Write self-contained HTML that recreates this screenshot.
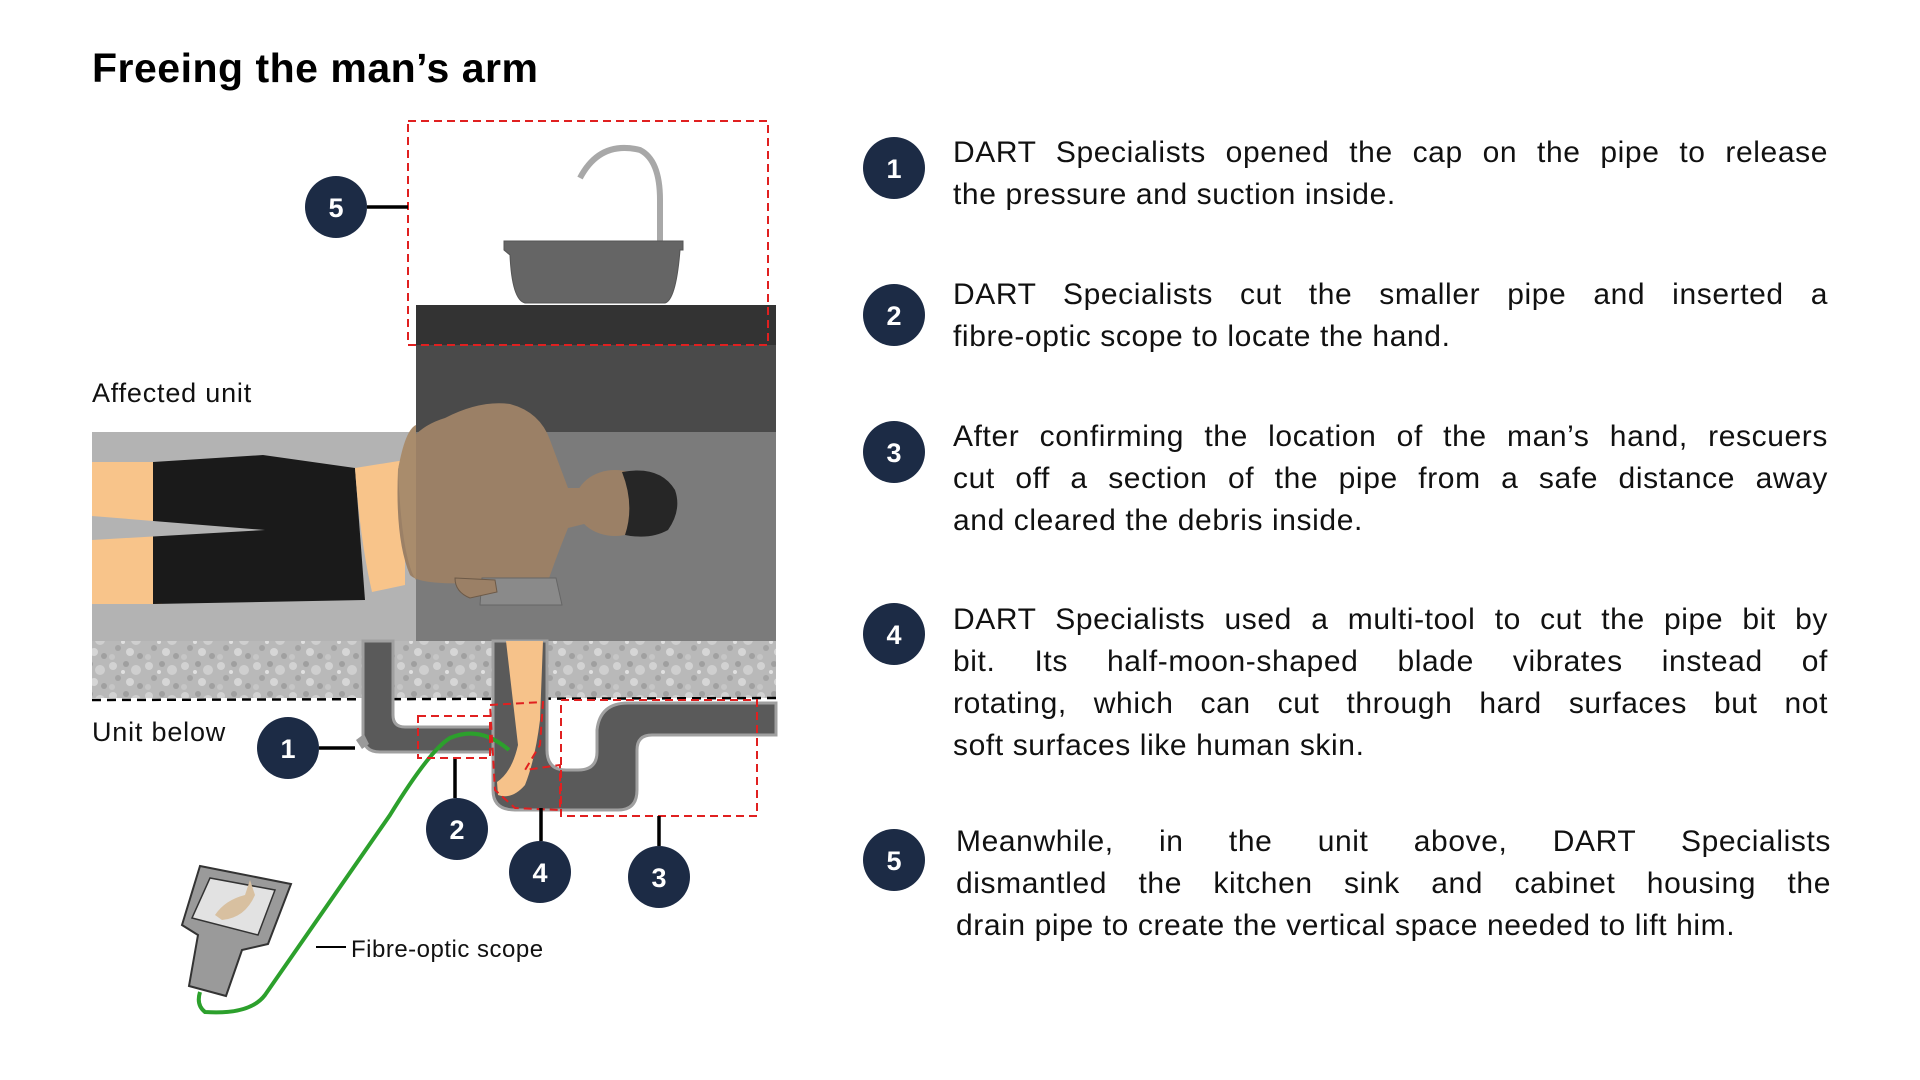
<!DOCTYPE html>
<html><head><meta charset="utf-8"><style>
html,body{margin:0;padding:0;background:#fff;}
body{width:1920px;height:1080px;position:relative;overflow:hidden;font-family:"Liberation Sans",sans-serif;color:#111;}
svg{position:absolute;left:0;top:0;}
.p{position:absolute;left:953px;width:875px;font-size:30px;line-height:42px;letter-spacing:0.6px;}
.p div{text-align:justify;text-align-last:justify;white-space:nowrap;}
.p div.l{text-align-last:left;}
</style></head><body>
<svg width="1920" height="1080" viewBox="0 0 1920 1080">
<defs>
<pattern id="conc" width="36" height="30" patternUnits="userSpaceOnUse">
<rect width="36" height="30" fill="#b9b9b9"/>
<circle cx="5" cy="6" r="4" fill="#d2d2d2"/><circle cx="18" cy="4" r="3" fill="#9f9f9f"/>
<circle cx="28" cy="10" r="5" fill="#cfcfcf"/><circle cx="10" cy="18" r="3" fill="#a4a4a4"/>
<circle cx="22" cy="22" r="4" fill="#d6d6d6"/><circle cx="32" cy="26" r="3" fill="#a0a0a0"/>
<circle cx="4" cy="27" r="3" fill="#c6c6c6"/><circle cx="15" cy="12" r="2" fill="#e0e0e0"/>
</pattern>
</defs>
<text x="92" y="82" font-family="Liberation Sans, sans-serif" font-weight="bold" font-size="41" letter-spacing="0.5" fill="#000">Freeing the man’s arm</text>
<rect x="92" y="432" width="684" height="209" fill="#b3b3b3"/>
<rect x="416" y="432" width="360" height="209" fill="#7b7b7b"/>
<rect x="416" y="345" width="360" height="87" fill="#4a4a4a"/>
<rect x="416" y="305" width="360" height="40" fill="#333"/>
<path d="M580 178 Q600 140 640 150 Q660 160 660 200 L660 242" fill="none" stroke="#a8a8a8" stroke-width="6"/>
<path d="M504 241 L683 241 L683 250 L680 250 Q676 300 665 303 L525 303 Q512 300 510 255 L504 250 Z" fill="#656565" stroke="#555" stroke-width="1"/>
<rect x="92" y="641" width="684" height="57" fill="url(#conc)"/>
<line x1="92" y1="700" x2="776" y2="698" stroke="#000" stroke-width="2.5" stroke-dasharray="9,6"/>
<path d="M363 641 V735 Q363 752 380 752 H493 V727 H405 Q393 727 393 715 V641 Z" fill="#5a5a5a" stroke="#a0a0a0" stroke-width="3"/>
<path d="M493 641 V790 Q493 810 515 810 H618 Q637 810 637 790 V750 Q637 735 652 735 H776 V703 H628 Q600 703 597 730 V752 Q597 770 578 770 H566 Q547 770 547 750 V641 Z" fill="#5a5a5a" stroke="#a0a0a0" stroke-width="3"/>
<path d="M356 740 l8 -6 l5 10 l-7 5 z" fill="#9a9a9a"/>
<path d="M506 641 L543 641 L540 720 Q535 760 525 785 Q512 800 498 795 L497 782 Q512 772 518 745 Z" fill="#f6c28a"/>
<rect x="92" y="462" width="70" height="142" fill="#f8c48a"/>
<path d="M153 462 L263 455 L355 468 L365 600 L153 604 Z" fill="#1a1a1a"/>
<path d="M92 516 L265 530 L92 540 Z" fill="#b3b3b3"/>
<path d="M355 468 L405 460 L405 585 L372 592 Q360 540 355 468 Z" fill="#f8c48a"/>
<path d="M398 470 Q405 430 445 418 Q480 400 510 404 Q540 412 550 440 L568 488 L600 488 L600 520 L568 528 Q555 560 545 590 Q520 600 490 597 L470 583 Q420 585 410 575 Q395 540 398 470 Z" fill="#9b8066"/>
<path d="M398 470 Q405 430 416 425 L416 580 Q402 560 398 470 Z" fill="#a98c6c"/>
<path d="M482 578 L556 578 L562 605 L480 605 Z" fill="#8a8a8a" stroke="#666" stroke-width="1"/>
<path d="M455 578 L495 580 L497 592 L470 598 Q455 592 455 578 Z" fill="#9b8066" stroke="#6d5a48" stroke-width="1"/>
<ellipse cx="615" cy="503" rx="40" ry="33" fill="#9b8066"/>
<path d="M622 472 Q660 465 675 490 Q682 510 668 530 Q650 540 625 535 Q635 505 622 472 Z" fill="#262626"/>
<path d="M200 866 L291 884 L268 944 L242 950 L226 996 L189 986 L198 935 L182 925 Z" fill="#9a9a9a" stroke="#333" stroke-width="2"/>
<path d="M210 878 L275 890 L258 935 L192 918 Z" fill="#e2e2e2" stroke="#333" stroke-width="1.5"/>
<path d="M215 915 Q225 900 245 895 L250 880 L255 895 Q245 918 222 920 Z" fill="#d8c0a0"/>
<path d="M509 750 Q480 725 450 738 Q430 750 390 815 L265 995 Q250 1015 205 1012 Q196 1005 200 992" fill="none" stroke="#2ca02c" stroke-width="4"/>
<g fill="none" stroke="#e02020" stroke-width="2" stroke-dasharray="8,5">
<rect x="408" y="121" width="360" height="224"/>
<rect x="418" y="716" width="72" height="42"/>
<path d="M490 705 L543 702 L540 745 L525 770 L560 765 L560 810 L515 808 L495 790 Z"/>
<rect x="561" y="700" width="196" height="116"/>
</g>
<g stroke="#000" stroke-width="3.5">
<line x1="367" y1="207" x2="408" y2="207"/>
<line x1="319" y1="748" x2="355" y2="748"/>
<line x1="455" y1="798" x2="455" y2="759"/>
<line x1="541" y1="841" x2="541" y2="808"/>
<line x1="659" y1="846" x2="659" y2="816"/>
</g>
<line x1="316" y1="947" x2="346" y2="947" stroke="#000" stroke-width="2"/>
<g fill="#1c2b45">
<circle cx="336" cy="207" r="31"/><circle cx="288" cy="748" r="31"/><circle cx="457" cy="829" r="31"/>
<circle cx="540" cy="872" r="31"/><circle cx="659" cy="877" r="31"/>
<circle cx="894" cy="168" r="31"/><circle cx="894" cy="315" r="31"/><circle cx="894" cy="452" r="31"/>
<circle cx="894" cy="634" r="31"/><circle cx="894" cy="860" r="31"/>
</g>
<g fill="#fff" font-family="Liberation Sans, sans-serif" font-weight="bold" font-size="27" text-anchor="middle">
<text x="336" y="217">5</text><text x="288" y="758">1</text><text x="457" y="839">2</text>
<text x="540" y="882">4</text><text x="659" y="887">3</text>
<text x="894" y="178">1</text><text x="894" y="325">2</text><text x="894" y="462">3</text>
<text x="894" y="644">4</text><text x="894" y="870">5</text>
</g>
<g font-family="Liberation Sans, sans-serif" fill="#111">
<text x="92" y="402" font-size="27" letter-spacing="0.8">Affected unit</text>
<text x="92" y="741" font-size="27" letter-spacing="0.8">Unit below</text>
<text x="351" y="957" font-size="24" letter-spacing="0.5">Fibre-optic scope</text>
</g>
</svg>
<div class="p" style="top:132px"><div>DART Specialists opened the cap on the pipe to release</div><div class="l">the pressure and suction inside.</div></div>
<div class="p" style="top:274px"><div>DART Specialists cut the smaller pipe and inserted a</div><div class="l">fibre-optic scope to locate the hand.</div></div>
<div class="p" style="top:416px"><div>After confirming the location of the man’s hand, rescuers</div><div>cut off a section of the pipe from a safe distance away</div><div class="l">and cleared the debris inside.</div></div>
<div class="p" style="top:599px"><div>DART Specialists used a multi-tool to cut the pipe bit by</div><div>bit. Its half-moon-shaped blade vibrates instead of</div><div>rotating, which can cut through hard surfaces but not</div><div class="l">soft surfaces like human skin.</div></div>
<div class="p" style="top:821px;left:956px"><div>Meanwhile, in the unit above, DART Specialists</div><div>dismantled the kitchen sink and cabinet housing the</div><div class="l">drain pipe to create the vertical space needed to lift him.</div></div>
</body></html>
